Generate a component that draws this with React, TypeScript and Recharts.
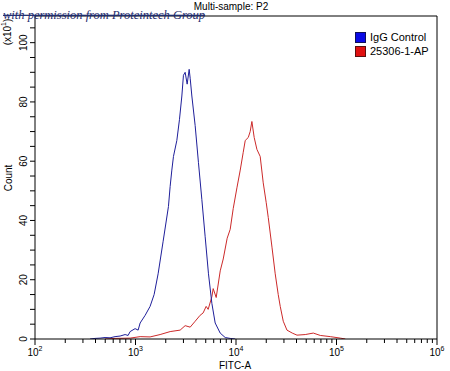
import { LineChart, Line, XAxis, YAxis, ReferenceLine } from 'recharts'

// FITC-A intensity / count
const igGFitc = [353, 396, 444, 498, 558, 626, 703, 788, 844, 884, 991, 1062, 1112, 1248, 1397, 1532, 1679, 1884, 2127, 2212, 2299, 2386, 2578, 2737, 2892, 3000, 3119, 3266, 3420, 3500, 3637, 3923, 4232, 4575, 4934, 5323, 5754, 6206, 6961, 7806, 8754, 9817]
const igGCount = [0, 0.2, 0.3, 0.5, 0.4, 0.8, 1.0, 1.5, 1.2, 2.5, 3.5, 3, 5.4, 8, 11, 15, 22, 33, 44.7, 51.5, 57, 61.6, 67, 74, 82, 89, 90, 86, 91, 88, 82, 72, 59.5, 47, 34.5, 22, 12, 5.4, 2, 0.5, 0.2, 0]

const apFitc = [498, 626, 884, 1112, 1397, 1758, 2212, 2780, 3119, 3500, 3925, 4395, 4710, 5047, 5284, 5754, 5931, 6353, 6966, 7464, 8166, 8754, 9380, 10210, 11020, 11800, 12360, 13240, 13840, 14390, 15170, 16140, 17410, 18660, 19990, 20940, 22800, 24560, 26310, 27560, 29530, 32140, 36290, 40450, 48870, 58770, 68990, 86770, 109100, 122400]
const apCount = [0, 0.2, 0.3, 0.8, 0.7, 1.5, 2.5, 3, 4.5, 4, 6, 8, 8.8, 11, 10, 14.3, 17, 14, 23, 27, 34, 37, 44, 51, 57, 63, 67, 68, 70, 73.4, 68, 64, 61.6, 52.7, 46, 41, 31, 22, 15, 11, 6, 3, 2, 1.3, 1.5, 2, 1.2, 0.8, 0.3, 0]

const xDecades = [100, 1000, 10000, 100000, 1000000]
const xExponents = ['2', '3', '4', '5', '6']
const yMajor = [0, 20, 40, 60, 80, 100]

const xMinor: number[] = []
xDecades.slice(0, 4).forEach((d) => {
  for (let k = 2; k <= 9; k++) xMinor.push(d * k)
})
const xTicks = [...xDecades, ...xMinor].sort((a, b) => a - b)
const yTicks: number[] = []
for (let v = 0; v <= 105; v += 5) yTicks.push(v)

const Y_MAX = 109
const FONT = '"Liberation Sans", Arial, sans-serif'

const igGData = igGFitc.map((fitc, i) => ({ fitc, count: igGCount[i] }))
const apData = apFitc.map((fitc, i) => ({ fitc, count: apCount[i] }))

function XTick({ x, y, payload }: any) {
  const idx = xDecades.indexOf(payload.value)
  const major = idx >= 0
  return (
    <g>
      <line x1={x} x2={x} y1={y} y2={y + (major ? 6 : 4)} stroke="#000" />
      {major && (
        <text x={x} y={y + 17} textAnchor="middle" fontSize={10} fontFamily={FONT} fill="#000">
          10
          <tspan fontSize={7} dy={-5}>{xExponents[idx]}</tspan>
        </text>
      )}
    </g>
  )
}

function YTick({ x, y, payload }: any) {
  const major = yMajor.includes(payload.value)
  return (
    <g>
      <line x1={x - 5} x2={x} y1={y} y2={y} stroke="#000" />
      {major && (
        <text
          x={x - 8}
          y={y}
          transform={`rotate(-90 ${x - 8} ${y})`}
          textAnchor="middle"
          fontSize={10}
          fontFamily={FONT}
          fill="#000"
        >
          {payload.value}
        </text>
      )}
    </g>
  )
}

export default function App() {
  return (
    <div style={{ position: 'absolute', left: 0, top: 0, width: 450, height: 371, background: '#fff' }}>
      <LineChart width={450} height={371} margin={{ top: 16, right: 13, left: 0, bottom: 0 }}>
        <XAxis
          dataKey="fitc"
          type="number"
          scale="log"
          domain={[100, 1000000]}
          allowDataOverflow
          ticks={xTicks}
          interval={0}
          tickSize={0}
          tickMargin={0}
          tickLine={false}
          tick={<XTick />}
          height={32}
          stroke="#000"
        />
        <YAxis
          dataKey="count"
          type="number"
          domain={[0, Y_MAX]}
          allowDataOverflow
          ticks={yTicks}
          interval={0}
          tickSize={0}
          tickMargin={0}
          tickLine={false}
          tick={<YTick />}
          width={35}
          stroke="#000"
        />
        <ReferenceLine y={Y_MAX} stroke="#000" />
        <ReferenceLine x={1000000} stroke="#000" />
        <Line data={apData} dataKey="count" stroke="#cc2a2a" strokeWidth={1} dot={false} isAnimationActive={false} />
        <Line data={igGData} dataKey="count" stroke="#1f1f9a" strokeWidth={1} dot={false} isAnimationActive={false} />
      </LineChart>
      <svg width={450} height={371} style={{ position: 'absolute', left: 0, top: 0, pointerEvents: 'none' }}>
        <text x={231} y={10} textAnchor="middle" fontSize={10} fontFamily={FONT} fill="#000">
          Multi-sample: P2
        </text>
        <text x={235} y={369} textAnchor="middle" fontSize={10} fontFamily={FONT} fill="#000">
          FITC-A
        </text>
        <text x={12} y={178} transform="rotate(-90 12 178)" textAnchor="middle" fontSize={10} fontFamily={FONT} fill="#000">
          Count
        </text>
        <text x={11} y={32} transform="rotate(-90 11 32)" textAnchor="middle" fontSize={10} fontFamily={FONT} fill="#000">
          (x10
          <tspan fontSize={7} dy={-5}>1</tspan>
          <tspan dy={5}>)</tspan>
        </text>
        <text
          x={3}
          y={19}
          fontSize={12.5}
          fontStyle="italic"
          fontFamily='"Liberation Serif", "DejaVu Serif", serif'
          fill="#1f2c6e"
          textDecoration="line-through"
        >
          with permission from Proteintech Group
        </text>
        <rect x={355.5} y={32.5} width={10} height={10} fill="#0a0ae6" stroke="#10105a" />
        <text x={370} y={41} fontSize={11} fontFamily={FONT} fill="#000">IgG Control</text>
        <rect x={355.5} y={46.5} width={10} height={10} fill="#e01010" stroke="#5a1010" />
        <text x={370} y={55} fontSize={11} fontFamily={FONT} fill="#000">25306-1-AP</text>
      </svg>
    </div>
  )
}
